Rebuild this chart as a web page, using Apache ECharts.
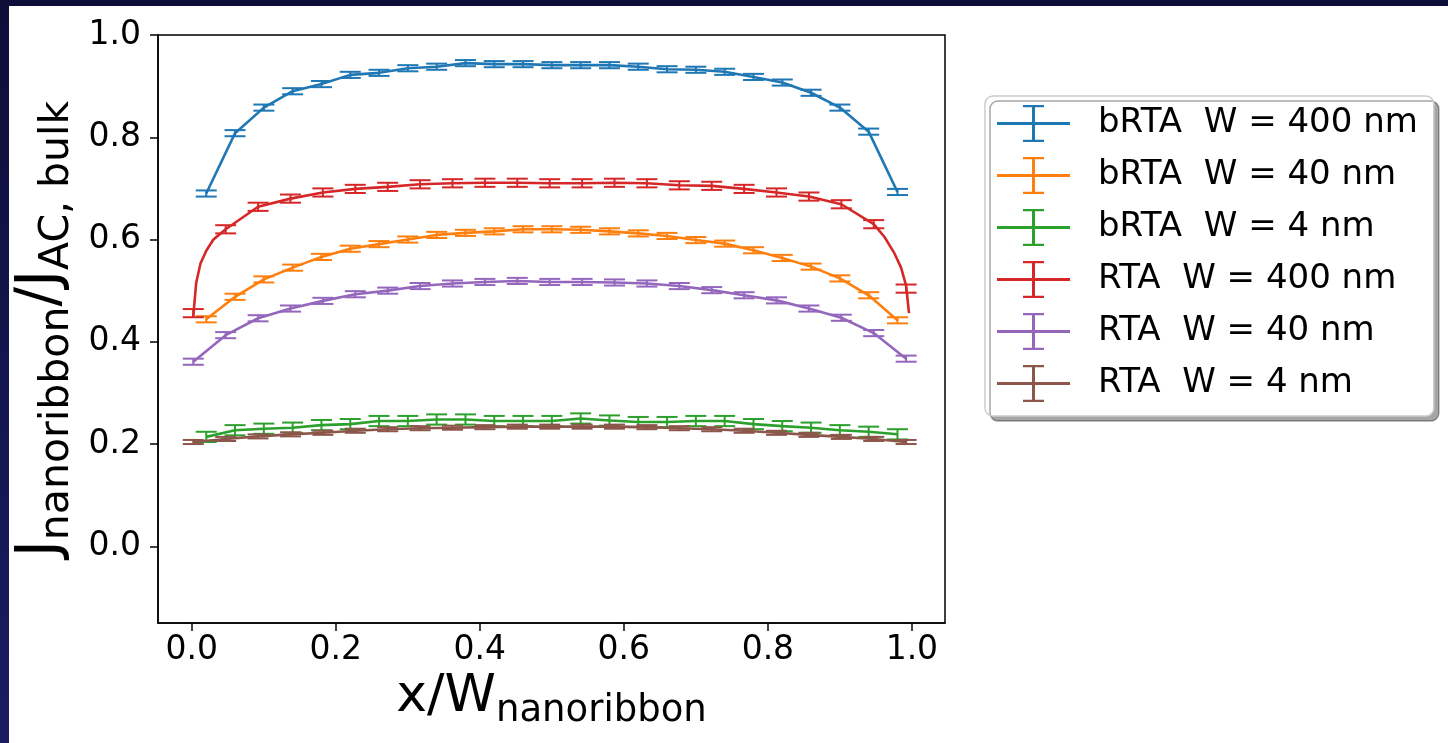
<!DOCTYPE html>
<html>
<head>
<meta charset="utf-8">
<script src="https://cdn.jsdelivr.net/npm/echarts@6/dist/echarts.min.js"></script>
<style>
  html, body { margin: 0; padding: 0; background: #ffffff; }
  #chart { position: absolute; left: 0; top: 0; width: 1448px; height: 743px; }
  #topStrip { position: absolute; left: 0; top: 0; width: 1448px; height: 6px; background: #0d0e38; }
  #leftStrip { position: absolute; left: 0; top: 0; width: 9px; height: 743px; background: linear-gradient(#0d0e38, #1a1c62); }
</style>
</head>
<body>
<div id="chart"></div>
<div id="topStrip"></div>
<div id="leftStrip"></div>
<script>
// ---- data ----
const seriesNames = ['bRTA  W = 400 nm', 'bRTA  W = 40 nm', 'bRTA  W = 4 nm', 'RTA  W = 400 nm', 'RTA  W = 40 nm', 'RTA  W = 4 nm'];
const colors = ['#1f77b4', '#ff7f0e', '#2ca02c', '#d62728', '#9467bd', '#8c564b'];
const xTicks = [0.0, 0.2, 0.4, 0.6, 0.8, 1.0];
const yTicks = [0.0, 0.2, 0.4, 0.6, 0.8, 1.0];

// x positions of bRTA samples
const xB = [0.02, 0.06, 0.10, 0.14, 0.18, 0.22, 0.26, 0.30, 0.34, 0.38, 0.42, 0.46, 0.50,
            0.54, 0.58, 0.62, 0.66, 0.70, 0.74, 0.78, 0.82, 0.86, 0.90, 0.94, 0.98];
// x positions of RTA samples
const xR = [0.002, 0.047, 0.092, 0.137, 0.182, 0.227, 0.272, 0.317, 0.362, 0.407, 0.452, 0.497,
            0.542, 0.587, 0.632, 0.677, 0.722, 0.767, 0.812, 0.857, 0.902, 0.947, 0.992];

const bRTA400 = [0.690, 0.808, 0.858, 0.890, 0.904, 0.922, 0.926, 0.935, 0.938, 0.945, 0.943, 0.943, 0.941,
                 0.941, 0.941, 0.938, 0.933, 0.932, 0.928, 0.918, 0.907, 0.887, 0.858, 0.811, 0.693];
const bRTA40  = [0.444, 0.488, 0.522, 0.545, 0.566, 0.582, 0.591, 0.600, 0.609, 0.613, 0.616, 0.620, 0.620,
                 0.619, 0.616, 0.612, 0.607, 0.599, 0.592, 0.579, 0.564, 0.547, 0.524, 0.491, 0.442];
const bRTA4   = [0.214, 0.227, 0.230, 0.232, 0.237, 0.239, 0.245, 0.245, 0.248, 0.248, 0.245, 0.245, 0.245,
                 0.250, 0.246, 0.243, 0.243, 0.245, 0.245, 0.239, 0.235, 0.232, 0.227, 0.224, 0.219];
const RTA400  = [0.456, 0.620, 0.664, 0.680, 0.692, 0.699, 0.703, 0.708, 0.710, 0.711, 0.711, 0.710,
                 0.710, 0.711, 0.710, 0.706, 0.705, 0.699, 0.692, 0.684, 0.669, 0.630, 0.504];
const RTA40   = [0.361, 0.413, 0.446, 0.465, 0.480, 0.493, 0.500, 0.509, 0.514, 0.517, 0.519, 0.517,
                 0.517, 0.516, 0.514, 0.509, 0.501, 0.491, 0.481, 0.465, 0.447, 0.417, 0.367];
const RTA4    = [0.204, 0.210, 0.215, 0.219, 0.222, 0.226, 0.229, 0.231, 0.232, 0.233, 0.234, 0.234,
                 0.234, 0.234, 0.233, 0.231, 0.229, 0.226, 0.222, 0.218, 0.214, 0.210, 0.204];
// the RTA 400 nm curve is drawn from denser samples near the edges
const RTA400LineX = [0.002, 0.006, 0.012, 0.020, 0.030, 0.047, 0.092, 0.137, 0.182, 0.227, 0.272, 0.317, 0.362,
                     0.407, 0.452, 0.497, 0.542, 0.587, 0.632, 0.677, 0.722, 0.767, 0.812, 0.857, 0.902,
                     0.947, 0.962, 0.975, 0.985, 0.992, 0.996];
const RTA400LineY = [0.449, 0.515, 0.553, 0.578, 0.600, 0.620, 0.664, 0.680, 0.692, 0.699, 0.703, 0.708, 0.710,
                     0.711, 0.711, 0.710, 0.710, 0.711, 0.710, 0.706, 0.705, 0.699, 0.692, 0.684, 0.669,
                     0.630, 0.605, 0.575, 0.545, 0.510, 0.456];
const errors = [0.006, 0.006, 0.010, 0.008, 0.006, 0.004];

// ---- build ----
const sets = [
  { x: xB, y: bRTA400 }, { x: xB, y: bRTA40 }, { x: xB, y: bRTA4 },
  { x: xR, y: RTA400, lx: RTA400LineX, ly: RTA400LineY }, { x: xR, y: RTA40 }, { x: xR, y: RTA4 }
];
const FONT = 'DejaVu Sans';
const legendIcon = 'path://M0,17L73,17L73,20L0,20Z M35,1.5L38,1.5L38,35.5L35,35.5Z M26,0L47,0L47,2.2L26,2.2Z M26,34.8L47,34.8L47,37L26,37Z';

const series = [];
sets.forEach((s, i) => {
  const lx = s.lx || s.x, ly = s.ly || s.y;
  series.push({
    name: seriesNames[i], type: 'line', showSymbol: false, symbol: 'none',
    data: lx.map((v, k) => [v, ly[k]]),
    lineStyle: { color: colors[i], width: 2.6 },
    itemStyle: { color: colors[i] },
    z: 2 + i * 2, animation: false
  });
  series.push({
    name: seriesNames[i] + ' err', type: 'custom',
    data: s.x.map((v, k) => [v, s.y[k], errors[i]]),
    z: 3 + i * 2, animation: false,
    renderItem: function (params, api) {
      const x = api.value(0), y = api.value(1), e = api.value(2);
      const lo = api.coord([x, y - e]);
      const hi = api.coord([x, y + e]);
      const hw = 10.5;
      const st = { stroke: colors[i], lineWidth: 2, fill: null };
      return {
        type: 'group',
        children: [
          { type: 'line', shape: { x1: lo[0], y1: lo[1], x2: hi[0], y2: hi[1] }, style: st },
          { type: 'line', shape: { x1: lo[0] - hw, y1: lo[1], x2: lo[0] + hw, y2: lo[1] }, style: st },
          { type: 'line', shape: { x1: hi[0] - hw, y1: hi[1], x2: hi[0] + hw, y2: hi[1] }, style: st }
        ]
      };
    }
  });
});

const chart = echarts.init(document.getElementById('chart'), null, { renderer: 'canvas' });
chart.setOption({
  backgroundColor: '#ffffff',
  animation: false,
  grid: { left: 158, top: 35, right: 503, bottom: 120, show: true, borderColor: '#000', borderWidth: 1.5, backgroundColor: 'transparent' },
  xAxis: {
    type: 'value', min: -0.047, max: 1.046,
    name: '{m|x/W}{s|nanoribbon}', nameLocation: 'middle', nameGap: 54,
    nameTextStyle: {
      rich: {
        m: { fontFamily: FONT, fontSize: 52, color: '#000', lineHeight: 52, verticalAlign: 'bottom', padding: [0, 0, 6, 0] },
        s: { fontFamily: FONT, fontSize: 37, color: '#000', lineHeight: 37, verticalAlign: 'bottom' }
      }
    },
    axisLine: { show: true, onZero: false, lineStyle: { color: '#000', width: 1.5 } },
    axisTick: { show: true, customValues: xTicks, length: 8, lineStyle: { color: '#000', width: 1.5 } },
    axisLabel: { customValues: xTicks, formatter: v => v.toFixed(1), fontFamily: FONT, fontSize: 33, color: '#000', margin: 11 },
    splitLine: { show: false }
  },
  yAxis: {
    type: 'value', min: -0.15, max: 1.0,
    name: '{m|J}{s|nanoribbon}{m|/J}{s|AC, bulk}', nameLocation: 'middle', nameGap: 77, nameRotate: 90,
    nameTextStyle: {
      rich: {
        m: { fontFamily: FONT, fontSize: 58, color: '#000', lineHeight: 58, verticalAlign: 'bottom', padding: [0, 0, 7, 0] },
        s: { fontFamily: FONT, fontSize: 41, color: '#000', lineHeight: 41, verticalAlign: 'bottom' }
      }
    },
    axisLine: { show: true, onZero: false, lineStyle: { color: '#000', width: 1.5 } },
    axisTick: { show: true, customValues: yTicks, length: 8, lineStyle: { color: '#000', width: 1.5 } },
    axisLabel: { customValues: yTicks, formatter: v => v.toFixed(1), fontFamily: FONT, fontSize: 33, color: '#000', margin: 17 },
    splitLine: { show: false }
  },
  legend: {
    data: seriesNames, orient: 'vertical', left: 985, top: 96,
    icon: legendIcon, itemWidth: 73, itemHeight: 37, itemGap: 15,
    padding: [9, 16, 14, 12],
    backgroundColor: '#ffffff', borderColor: '#cccccc', borderWidth: 1.5, borderRadius: 8,
    shadowColor: 'rgba(0,0,0,0.35)', shadowOffsetX: 5, shadowOffsetY: 5, shadowBlur: 0,
    textStyle: { fontFamily: FONT, fontSize: 34, color: '#000', padding: [0, 0, 0, 23] },
    selectedMode: false
  },
  series: series
});
</script>
</body>
</html>
